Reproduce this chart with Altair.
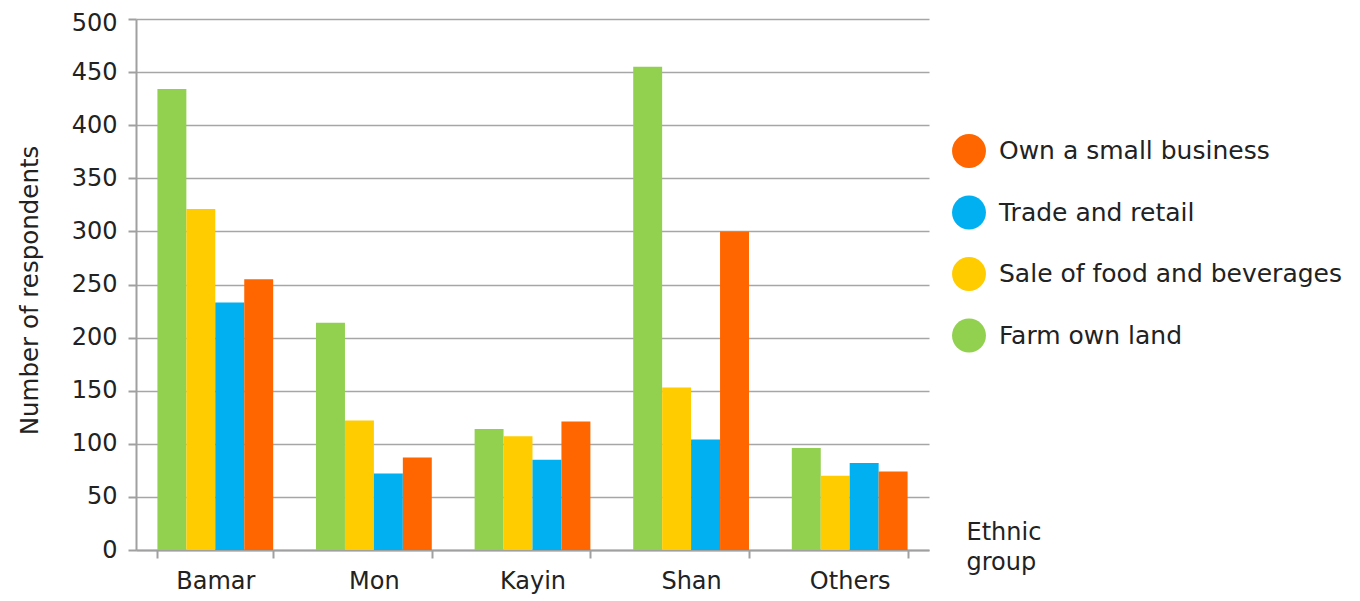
import altair as alt
import pandas as pd

groups = ["Bamar", "Mon", "Kayin", "Shan", "Others"]
series = ["Farm own land", "Sale of food and beverages", "Trade and retail", "Own a small business"]
farm = [434, 214, 114, 455, 96]
food = [321, 122, 107, 153, 70]
trade = [233, 72, 85, 104, 82]
business = [255, 87, 121, 300, 74]

legend_order = ["Own a small business", "Trade and retail", "Sale of food and beverages", "Farm own land"]
colors = ["#FF6600", "#00B0F0", "#FFCC00", "#92D050"]

rows = []
for name, vals in zip(series, [farm, food, trade, business]):
    for g, v in zip(groups, vals):
        rows.append({"group": g, "series": name, "value": v})
df = pd.DataFrame(rows)

FONT = "DejaVu Sans"

chart = alt.Chart(df).mark_bar().encode(
    x=alt.X("group:N", sort=groups,
            scale=alt.Scale(paddingInner=0.27, paddingOuter=0.135),
            axis=alt.Axis(title=["Ethnic", "group"], labelAngle=0, labelFontSize=24,
                          labelPadding=11, tickBand="extent", tickSize=8,
                          titleAlign="left", titleBaseline="top", titleX=830, titleY=-30,
                          titleFontSize=24, titleFontWeight="normal", titleLineHeight=30,
                          titleAnchor="start")),
    xOffset=alt.XOffset("series:N", sort=series),
    y=alt.Y("value:Q", scale=alt.Scale(domain=[0, 500], nice=False),
            axis=alt.Axis(title="Number of respondents", values=list(range(0, 501, 50)),
                          labelFontSize=24, labelPadding=11, tickSize=8,
                          labelOffset={"condition": {"test": "datum.value == 500", "value": 4}, "value": 0},
                          titleX=-106, titleY=271, titleAngle=-90, titleAlign="center",
                          titleBaseline="middle", titleFontSize=24.5, titleFontWeight="normal")),
    color=alt.Color("series:N",
                    scale=alt.Scale(domain=legend_order, range=colors),
                    legend=alt.Legend(title=None, orient="none", legendX=816, legendY=115,
                                      symbolType="circle", symbolSize=1150, symbolStrokeWidth=0,
                                      labelFontSize=25, labelOffset=13, rowPadding=27.5,
                                      labelLimit=500)),
).properties(
    width=793, height=531,
    autosize=alt.AutoSizeParams(type="none"),
    padding={"left": 128, "top": 11, "right": 423, "bottom": 47},
).configure(font=FONT).configure_axis(
    labelColor="#222222", titleColor="#222222", domainColor="#a0a0a0", domainWidth=2,
    tickColor="#a0a0a0", tickWidth=2, gridColor="#a6a6a6", gridWidth=1.6,
    labelFont=FONT, titleFont=FONT,
).configure_axisX(grid=False).configure_legend(labelColor="#222222", labelFont=FONT
).configure_view(stroke=None)

chart.save("out.html", embed_options={"renderer": "svg", "actions": False})
